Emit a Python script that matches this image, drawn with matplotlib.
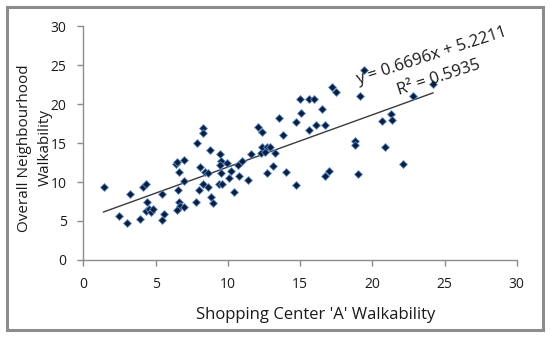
"""Scatter of neighbourhood walkability against shopping center walkability."""
import matplotlib
matplotlib.use("Agg")
import matplotlib.pyplot as plt
from matplotlib.patches import Rectangle

# Shopping Center 'A' walkability (x) and overall neighbourhood walkability (y)
shop_walk = [
    1.4, 2.5, 3.0, 3.2, 3.9, 4.1, 4.35, 4.4, 4.35, 4.55, 4.65, 4.8,
    5.45, 5.55, 5.45, 6.4, 6.5, 6.65, 7.0, 6.95, 6.55, 6.65, 6.7, 6.45,
    6.95, 7.8, 7.9, 8.25, 8.25, 8.1, 8.0, 8.25, 8.4, 8.6, 8.65, 8.85,
    9.0, 8.8, 9.45, 9.5, 9.45, 9.5, 9.4, 9.6, 9.95, 10.05, 10.25, 10.45,
    10.7, 10.75, 11.0, 11.4, 11.6, 12.1, 12.4, 12.3, 12.4, 12.7, 12.95, 12.6,
    12.7, 13.1, 13.25, 13.55, 13.85, 14.05, 14.7, 14.75, 15.0, 15.1, 15.6, 15.95,
    15.6, 16.1, 16.5, 16.7, 16.7, 17.0, 17.2, 17.5, 18.8, 18.8, 19.0, 19.15,
    19.4, 20.7, 21.3, 21.35, 20.85, 22.1, 22.85, 24.2,
]
overall_walk = [
    9.3, 5.7, 4.8, 8.4, 5.3, 9.4, 9.75, 7.5, 6.3, 6.6, 6.1, 6.55,
    8.5, 5.95, 5.1, 12.25, 12.6, 11.3, 12.85, 10.15, 8.95, 7.45, 6.95, 6.45,
    6.75, 7.45, 15.05, 16.95, 16.3, 11.95, 8.95, 9.8, 11.25, 11.1, 9.4, 8.05,
    7.3, 14.15, 13.55, 12.65, 12.2, 11.2, 9.8, 9.8, 12.4, 10.55, 11.4, 8.75,
    12.15, 10.8, 12.75, 10.3, 13.55, 17.05, 16.35, 13.7, 14.5, 14.5, 14.45, 13.9,
    11.15, 12.1, 13.7, 18.2, 16.0, 11.3, 17.65, 9.6, 20.65, 18.8, 20.65, 20.65,
    16.7, 17.3, 19.35, 17.3, 10.8, 11.35, 22.15, 21.5, 15.2, 14.75, 11.05, 21.05,
    24.3, 17.85, 18.7, 17.95, 14.45, 12.25, 21.05, 22.6,
]

# Linear trendline reported on the chart
slope = 0.6696
intercept = 5.2211
r_squared = 0.5935

x_ticks = [0, 5, 10, 15, 20, 25, 30]
y_ticks = [0, 5, 10, 15, 20, 25, 30]

plt.rcParams["font.family"] = ["Open Sans", "DejaVu Sans"]

fig = plt.figure(figsize=(5.5, 3.37), dpi=100)
ax = fig.add_axes([0.1515, 0.2285, 0.7881, 0.6943])

# Trendline over the range of the data
x_min, x_max = min(shop_walk), max(shop_walk)
ax.plot([x_min, x_max], [slope * x_min + intercept, slope * x_max + intercept],
        color="#3a3a3a", linewidth=1.0, zorder=2)

# Data points
ax.scatter(shop_walk, overall_walk, marker="D", s=16, facecolor="#0d1d3a",
           edgecolor="#5b8fd0", linewidth=0.6, zorder=3)

# Axes styling
ax.set_xlim(0, 30)
ax.set_ylim(0, 30)
ax.set_xticks(x_ticks)
ax.set_yticks(y_ticks)
for side in ["top", "right"]:
    ax.spines[side].set_visible(False)
for side in ["left", "bottom"]:
    ax.spines[side].set_color("#8c8c8c")
    ax.spines[side].set_linewidth(1.0)
ax.tick_params(axis="both", direction="out", length=4, width=1.0, color="#8c8c8c",
               labelsize=10, labelcolor="#1a1a1a", pad=8)

# Trendline equation
ax.text(0.804, 0.873, f"y = {slope}x + {intercept}", transform=ax.transAxes,
        rotation=18, ha="center", va="center", fontsize=12, color="#1a1a1a")
ax.text(0.820, 0.78, f"R² = {r_squared}", transform=ax.transAxes,
        rotation=18, ha="center", va="center", fontsize=12, color="#1a1a1a")

# Axis titles
fig.text(0.574, 0.065, "Shopping Center 'A' Walkability", ha="center", va="center",
         fontsize=12, color="#1a1a1a")
fig.text(0.0636, 0.561, "Overall Neighbourhood\nWalkability", ha="center", va="center",
         rotation=90, fontsize=11, color="#1a1a1a", linespacing=1.5)

# Chart area border
fig.patches.append(Rectangle((0.0127, 0.0208), 0.9745, 0.958, transform=fig.transFigure,
                             fill=False, edgecolor="#8c8c8c", linewidth=2.2))

fig.savefig("out.png", dpi=100)
plt.close(fig)
